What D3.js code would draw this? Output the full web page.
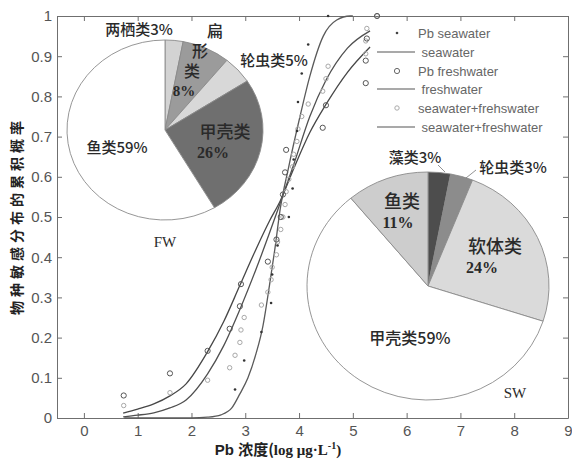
<!DOCTYPE html>
<html>
<head>
<meta charset="utf-8">
<script src="https://cdn.jsdelivr.net/npm/d3@7"></script>
<style>
  html, body { margin: 0; padding: 0; background: #fff; }
  svg { display: block; }
</style>
</head>
<body>
<svg id="chart" width="572" height="463"></svg>
<script>
// ---- axis ticks ----
const xTicks = [0, 1, 2, 3, 4, 5, 6, 7, 8, 9];
const yTicks = [0, 0.1, 0.2, 0.3, 0.4, 0.5, 0.6, 0.7, 0.8, 0.9, 1];

// ---- species sensitivity points (log concentration, cumulative probability) ----
const swX = [2.81, 2.98, 3.30, 3.48, 3.50, 3.60, 3.81, 3.88, 3.90, 3.96, 3.98, 4.05, 4.17, 4.54];
const swY = [0.071, 0.143, 0.214, 0.286, 0.357, 0.429, 0.500, 0.571, 0.643, 0.714, 0.786, 0.857, 0.929, 1.000];

const fwX = [0.74, 1.60, 2.30, 2.71, 2.90, 2.92, 3.42, 3.58, 3.66, 3.70, 3.74, 3.76, 4.44, 4.50, 5.24, 5.24, 5.26, 5.45];
const fwY = [0.056, 0.111, 0.167, 0.222, 0.278, 0.333, 0.389, 0.444, 0.500, 0.556, 0.611, 0.667, 0.722, 0.778, 0.833, 0.889, 0.944, 1.000];

const mixX = [0.74, 1.60, 2.30, 2.71, 2.81, 2.90, 2.92, 2.98, 3.30, 3.42, 3.48, 3.50, 3.58, 3.60, 3.66, 3.70,
              3.74, 3.76, 3.81, 3.88, 3.90, 3.96, 3.98, 4.05, 4.17, 4.44, 4.50, 4.54, 5.24, 5.24, 5.26, 5.45];
const mixY = [0.031, 0.063, 0.094, 0.125, 0.156, 0.188, 0.219, 0.250, 0.281, 0.313, 0.344, 0.375, 0.406, 0.438, 0.469, 0.500,
              0.531, 0.563, 0.594, 0.625, 0.656, 0.688, 0.719, 0.750, 0.781, 0.813, 0.844, 0.875, 0.906, 0.938, 0.969, 1.000];

// ---- fitted SSD curves ----
const swCurveX = [0.75, 1.50, 2.00, 2.30, 2.55, 2.75, 2.90, 3.05, 3.20, 3.33, 3.45, 3.55, 3.65, 3.80, 4.00, 4.20, 4.45, 4.70, 4.95, 5.00];
const swCurveY = [0.000, 0.000, 0.000, 0.002, 0.008, 0.025, 0.060, 0.100, 0.160, 0.230, 0.330, 0.420, 0.520, 0.620, 0.740, 0.850, 0.950, 0.990, 1.000, 1.000];

const fwCurveX = [0.73, 1.00, 1.30, 1.60, 1.90, 2.30, 2.60, 2.90, 3.20, 3.45, 3.65, 3.90, 4.20, 4.50, 4.90, 5.32];
const fwCurveY = [0.012, 0.022, 0.035, 0.055, 0.085, 0.165, 0.240, 0.330, 0.420, 0.490, 0.540, 0.620, 0.710, 0.780, 0.860, 0.923];

const mixCurveX = [0.73, 1.00, 1.30, 1.60, 1.90, 2.30, 2.60, 2.90, 3.20, 3.45, 3.65, 3.90, 4.20, 4.50, 4.90, 5.32];
const mixCurveY = [0.003, 0.007, 0.013, 0.025, 0.045, 0.110, 0.180, 0.270, 0.370, 0.460, 0.535, 0.630, 0.750, 0.840, 0.920, 0.963];

// ---- taxonomic composition pies ----
const fwGroups = ["两栖类", "扁形类", "轮虫类", "甲壳类", "鱼类"];
const fwShares = [3, 8, 5, 26, 59];
const fwColors = ["#d3d3d3", "#9b9b9b", "#d8d8d8", "#6f6f6f", "#ffffff"];

const swGroups = ["藻类", "轮虫类", "软体类", "甲壳类", "鱼类"];
const swShares = [3, 3, 24, 59, 11];
const swColors = ["#4d4d4d", "#8c8c8c", "#dadada", "#ffffff", "#cdcdcd"];

const legendLabels = ["Pb seawater", " seawater", "Pb freshwater", " freshwater", "seawater+frehswater", " seawater+freshwater"];

// ---------------------------------------------------------------
const svg = d3.select("#chart");
const x = d3.scaleLinear().domain([-0.5, 9]).range([57, 568]);
const y = d3.scaleLinear().domain([0, 1]).range([418, 16]);
const frame = "#6f6f6f";
const tickFont = "'Liberation Sans', Arial, sans-serif";
const cjk = "'Noto Sans CJK SC', sans-serif";
const serif = "'Liberation Serif', 'Times New Roman', serif";

function styleAxis(g, showLabels) {
  g.select(".domain").attr("stroke", frame).attr("stroke-width", 1);
  g.selectAll(".tick line").attr("stroke", frame);
  g.selectAll(".tick text")
    .attr("fill", "#555")
    .style("font-family", tickFont)
    .style("font-size", "15px");
  if (!showLabels) g.selectAll(".tick text").remove();
}

const yFmt = d => (d === 0 ? "0" : d === 1 ? "1" : d3.format(".1f")(d));

svg.append("g").attr("transform", `translate(0,${y(0)})`)
  .call(d3.axisBottom(x).tickValues(xTicks).tickSizeInner(-5).tickSizeOuter(0).tickPadding(7))
  .call(g => styleAxis(g, true));
svg.append("g").attr("transform", `translate(0,${y(1)})`)
  .call(d3.axisTop(x).tickValues(xTicks).tickSizeInner(-5).tickSizeOuter(0))
  .call(g => styleAxis(g, false));
svg.append("g").attr("transform", `translate(${x(-0.5)},0)`)
  .call(d3.axisLeft(y).tickValues(yTicks).tickFormat(yFmt).tickSizeInner(-5).tickSizeOuter(0).tickPadding(5))
  .call(g => styleAxis(g, true));
svg.append("g").attr("transform", `translate(${x(9)},0)`)
  .call(d3.axisRight(y).tickValues(yTicks).tickSizeInner(-5).tickSizeOuter(0))
  .call(g => styleAxis(g, false));

// axis titles
const xt = svg.append("text")
  .attr("x", 278).attr("y", 455)
  .attr("text-anchor", "middle")
  .attr("fill", "#222")
  .style("font-weight", "bold");
xt.append("tspan").style("font-family", tickFont).style("font-size", "15px").text("Pb ");
xt.append("tspan").style("font-family", cjk).style("font-size", "15px").text("浓度(");
xt.append("tspan").style("font-family", serif).style("font-size", "15px").text("log μg·L");
xt.append("tspan").style("font-family", serif).style("font-size", "10px").attr("dy", -6).text("-1");
xt.append("tspan").style("font-family", serif).style("font-size", "15px").attr("dy", 6).text(")");

svg.append("text")
  .attr("transform", "translate(22,216) rotate(-90)")
  .attr("text-anchor", "middle")
  .attr("fill", "#222")
  .style("font-family", cjk)
  .style("font-size", "14px")
  .style("font-weight", "bold")
  .style("letter-spacing", "4px")
  .text("物种敏感分布的累积概率");

// fitted curves
const line = d3.line().x(d => x(d[0])).y(d => y(d[1])).curve(d3.curveMonotoneX);
const curves = [
  { xs: fwCurveX, ys: fwCurveY, color: "#474747" },
  { xs: mixCurveX, ys: mixCurveY, color: "#505050" },
  { xs: swCurveX, ys: swCurveY, color: "#5a5a5a" }
];
curves.forEach(c => {
  svg.append("path")
    .datum(c.xs.map((v, i) => [v, c.ys[i]]))
    .attr("d", line)
    .attr("fill", "none")
    .attr("stroke", c.color)
    .attr("stroke-width", 1.3);
});

// observed points
const zip = (a, b) => a.map((v, i) => [v, b[i]]);
svg.append("g").selectAll("circle").data(zip(mixX, mixY)).join("circle")
  .attr("cx", d => x(d[0])).attr("cy", d => y(d[1])).attr("r", 2.2)
  .attr("fill", "none").attr("stroke", "#a8a8a8").attr("stroke-width", 1);
svg.append("g").selectAll("circle").data(zip(fwX, fwY)).join("circle")
  .attr("cx", d => x(d[0])).attr("cy", d => y(d[1])).attr("r", 2.6)
  .attr("fill", "none").attr("stroke", "#555").attr("stroke-width", 1);
svg.append("g").selectAll("circle").data(zip(swX, swY)).join("circle")
  .attr("cx", d => x(d[0])).attr("cy", d => y(d[1])).attr("r", 1.3)
  .attr("fill", "#333");

// legend
const legY = [33, 52, 71, 89, 108, 127];
const leg = svg.append("g");
legendLabels.forEach((t, i) => {
  const yy = legY[i];
  if (i === 0) leg.append("circle").attr("cx", 397).attr("cy", yy).attr("r", 1.3).attr("fill", "#444");
  if (i === 2) leg.append("circle").attr("cx", 397).attr("cy", yy).attr("r", 2.6).attr("fill", "none").attr("stroke", "#666");
  if (i === 4) leg.append("circle").attr("cx", 397).attr("cy", yy).attr("r", 2.2).attr("fill", "none").attr("stroke", "#aaa");
  if (i % 2 === 1) leg.append("line").attr("x1", 377).attr("x2", 415).attr("y1", yy).attr("y2", yy)
      .attr("stroke", "#555").attr("stroke-width", 1.2);
  leg.append("text")
    .attr("x", 418).attr("y", yy).attr("dy", "0.35em")
    .attr("fill", "#666")
    .style("font-family", tickFont)
    .style("font-size", "13px")
    .style("white-space", "pre")
    .attr("xml:space", "preserve")
    .text(t);
});

// pies drawn as slightly flattened discs
function drawPie(cx, cy, rx, ry, shares, colors) {
  const arcs = d3.pie().sort(null).value(d => d)(shares);
  const arc = d3.arc().innerRadius(0).outerRadius(rx);
  const g = svg.append("g").attr("transform", `translate(${cx},${cy}) scale(1,${ry / rx})`);
  g.selectAll("path").data(arcs).join("path")
    .attr("d", arc)
    .attr("fill", (d, i) => colors[i])
    .attr("stroke", "#8a8a8a")
    .attr("stroke-width", 0.9)
    .attr("vector-effect", "non-scaling-stroke");
}
drawPie(165, 130, 98, 90, fwShares, fwColors);
drawPie(428, 286, 121, 114, swShares, swColors);

function label(txt, lx, ly, size, family, weight) {
  svg.append("text")
    .attr("x", lx).attr("y", ly).attr("dy", "0.35em")
    .attr("text-anchor", "middle")
    .attr("fill", "#2a2a2a")
    .style("font-family", family || cjk)
    .style("font-size", size + "px")
    .style("font-weight", weight || 500)
    .text(txt);
}

// freshwater pie labels
label(fwGroups[0] + fwShares[0] + "%", 139, 30, 15);
label(fwGroups[1][0], 215, 31, 16);
label(fwGroups[1][1], 200, 51, 16);
label(fwGroups[1][2], 192, 71, 16);
label(fwShares[1] + "%", 184, 91, 15, serif, "bold");
label(fwGroups[2] + fwShares[2] + "%", 274, 61, 15);
label(fwGroups[3], 225, 132, 17);
label(fwShares[3] + "%", 213, 152, 16, serif, "bold");
label(fwGroups[4] + fwShares[4] + "%", 117, 148, 15);
label("FW", 165, 242, 15, serif, "normal");

// seawater pie labels
label(swGroups[0] + swShares[0] + "%", 415, 158, 15);
label(swGroups[1] + swShares[1] + "%", 513, 168, 15);
label(swGroups[4], 402, 202, 18);
label(swShares[4] + "%", 398, 222, 16, serif, "bold");
label(swGroups[2], 495, 247, 18);
label(swShares[2] + "%", 482, 267, 16, serif, "bold");
label(swGroups[3] + swShares[3] + "%", 410, 338, 16);
label("SW", 515, 393, 15, serif, "normal");

// leader lines for the narrow seawater slices
svg.append("line").attr("x1", 438).attr("y1", 165).attr("x2", 445).attr("y2", 172)
  .attr("stroke", "#777").attr("stroke-width", 0.8);
svg.append("line").attr("x1", 466).attr("y1", 178).attr("x2", 476).attr("y2", 170)
  .attr("stroke", "#777").attr("stroke-width", 0.8);
</script>
</body>
</html>
